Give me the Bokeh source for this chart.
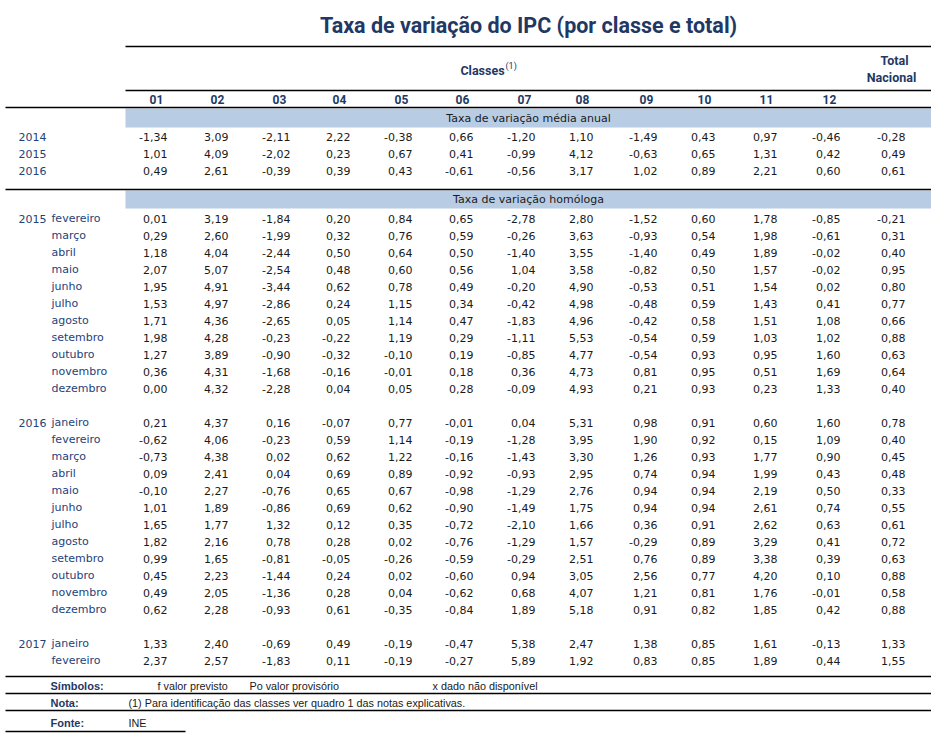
from bokeh.plotting import figure
from bokeh.models import Range1d, ColumnDataSource
from bokeh.core.properties import value
from bokeh.embed import file_html
from bokeh.resources import INLINE

# ---------------- data ----------------
title = "Taxa de variação do IPC (por classe e total)"
classes = ["01", "02", "03", "04", "05", "06", "07", "08", "09", "10", "11", "12"]

annual_years = ["2014", "2015", "2016"]
annual_2014 = [-1.34, 3.09, -2.11, 2.22, -0.38, 0.66, -1.20, 1.10, -1.49, 0.43, 0.97, -0.46, -0.28]
annual_2015 = [1.01, 4.09, -2.02, 0.23, 0.67, 0.41, -0.99, 4.12, -0.63, 0.65, 1.31, 0.42, 0.49]
annual_2016 = [0.49, 2.61, -0.39, 0.39, 0.43, -0.61, -0.56, 3.17, 1.02, 0.89, 2.21, 0.60, 0.61]

months_2015 = ["fevereiro", "março", "abril", "maio", "junho", "julho", "agosto",
               "setembro", "outubro", "novembro", "dezembro"]
yoy_2015 = [
    [0.01, 3.19, -1.84, 0.20, 0.84, 0.65, -2.78, 2.80, -1.52, 0.60, 1.78, -0.85, -0.21],
    [0.29, 2.60, -1.99, 0.32, 0.76, 0.59, -0.26, 3.63, -0.93, 0.54, 1.98, -0.61, 0.31],
    [1.18, 4.04, -2.44, 0.50, 0.64, 0.50, -1.40, 3.55, -1.40, 0.49, 1.89, -0.02, 0.40],
    [2.07, 5.07, -2.54, 0.48, 0.60, 0.56, 1.04, 3.58, -0.82, 0.50, 1.57, -0.02, 0.95],
    [1.95, 4.91, -3.44, 0.62, 0.78, 0.49, -0.20, 4.90, -0.53, 0.51, 1.54, 0.02, 0.80],
    [1.53, 4.97, -2.86, 0.24, 1.15, 0.34, -0.42, 4.98, -0.48, 0.59, 1.43, 0.41, 0.77],
    [1.71, 4.36, -2.65, 0.05, 1.14, 0.47, -1.83, 4.96, -0.42, 0.58, 1.51, 1.08, 0.66],
    [1.98, 4.28, -0.23, -0.22, 1.19, 0.29, -1.11, 5.53, -0.54, 0.59, 1.03, 1.02, 0.88],
    [1.27, 3.89, -0.90, -0.32, -0.10, 0.19, -0.85, 4.77, -0.54, 0.93, 0.95, 1.60, 0.63],
    [0.36, 4.31, -1.68, -0.16, -0.01, 0.18, 0.36, 4.73, 0.81, 0.95, 0.51, 1.69, 0.64],
    [0.00, 4.32, -2.28, 0.04, 0.05, 0.28, -0.09, 4.93, 0.21, 0.93, 0.23, 1.33, 0.40],
]

months_2016 = ["janeiro", "fevereiro", "março", "abril", "maio", "junho", "julho", "agosto",
               "setembro", "outubro", "novembro", "dezembro"]
yoy_2016 = [
    [0.21, 4.37, 0.16, -0.07, 0.77, -0.01, 0.04, 5.31, 0.98, 0.91, 0.60, 1.60, 0.78],
    [-0.62, 4.06, -0.23, 0.59, 1.14, -0.19, -1.28, 3.95, 1.90, 0.92, 0.15, 1.09, 0.40],
    [-0.73, 4.38, 0.02, 0.62, 1.22, -0.16, -1.43, 3.30, 1.26, 0.93, 1.77, 0.90, 0.45],
    [0.09, 2.41, 0.04, 0.69, 0.89, -0.92, -0.93, 2.95, 0.74, 0.94, 1.99, 0.43, 0.48],
    [-0.10, 2.27, -0.76, 0.65, 0.67, -0.98, -1.29, 2.76, 0.94, 0.94, 2.19, 0.50, 0.33],
    [1.01, 1.89, -0.86, 0.69, 0.62, -0.90, -1.49, 1.75, 0.94, 0.94, 2.61, 0.74, 0.55],
    [1.65, 1.77, 1.32, 0.12, 0.35, -0.72, -2.10, 1.66, 0.36, 0.91, 2.62, 0.63, 0.61],
    [1.82, 2.16, 0.78, 0.28, 0.02, -0.76, -1.29, 1.57, -0.29, 0.89, 3.29, 0.41, 0.72],
    [0.99, 1.65, -0.81, -0.05, -0.26, -0.59, -0.29, 2.51, 0.76, 0.89, 3.38, 0.39, 0.63],
    [0.45, 2.23, -1.44, 0.24, 0.02, -0.60, 0.94, 3.05, 2.56, 0.77, 4.20, 0.10, 0.88],
    [0.49, 2.05, -1.36, 0.28, 0.04, -0.62, 0.68, 4.07, 1.21, 0.81, 1.76, -0.01, 0.58],
    [0.62, 2.28, -0.93, 0.61, -0.35, -0.84, 1.89, 5.18, 0.91, 0.82, 1.85, 0.42, 0.88],
]

months_2017 = ["janeiro", "fevereiro"]
yoy_2017 = [
    [1.33, 2.40, -0.69, 0.49, -0.19, -0.47, 5.38, 2.47, 1.38, 0.85, 1.61, -0.13, 1.33],
    [2.37, 2.57, -1.83, 0.11, -0.19, -0.27, 5.89, 1.92, 0.83, 0.85, 1.89, 0.44, 1.55],
]

# ---------------- layout / style ----------------
DARK = "#1F3864"
LABEL = "#24427A"
NUM = "#1A1A1A"
BAND = "#B8CCE4"
NUM_FONT = value("DejaVu Sans")
HEAD_FONT = value("Roboto")
FOOT = value("Liberation Sans")

W, H = 931, 733
col_right = [167, 228, 290, 350, 412, 473, 535, 593, 657, 715, 777, 840, 905]
ROW = 17

p = figure(width=W, height=H, x_range=Range1d(0, W), y_range=Range1d(H, 0),
           output_backend="svg", toolbar_location=None, min_border=0,
           x_axis_type=None, y_axis_type=None)
p.grid.visible = False
p.outline_line_color = None
p.background_fill_color = "white"
p.border_fill_color = "white"


def fmt(v):
    return f"{v:.2f}".replace(".", ",")


# bands
p.quad(left=[125, 125], right=[935, 935], top=[108, 190], bottom=[127, 208],
       fill_color=BAND, line_color=None)

# rules
seg_x0 = [125, 125, 5, 5, 5, 5, 5, 5]
seg_x1 = [935, 935, 935, 935, 935, 935, 935, 185]
seg_y = [46, 90, 107, 189, 676, 693, 710, 731]
p.segment(x0=seg_x0, y0=seg_y, x1=seg_x1, y1=seg_y, line_color="black", line_width=1.6)

# title
p.text(x=[528], y=[25], text=[title], text_align="center", text_baseline="middle",
       text_font=HEAD_FONT, text_font_style="bold", text_font_size="21.5px", text_color=DARK)

# header
p.text(x=[482], y=[70], text=["Classes"], text_align="center", text_baseline="middle",
       text_font=HEAD_FONT, text_font_style="bold", text_font_size="12.5px", text_color=DARK)
p.text(x=[505], y=[65], text=["(1)"], text_align="left", text_baseline="middle",
       text_font=HEAD_FONT, text_font_size="9px", text_color=DARK)
p.text(x=[894, 891], y=[60, 77], text=["Total", "Nacional"], text_align="center",
       text_baseline="middle", text_font=HEAD_FONT, text_font_style="bold",
       text_font_size="12.5px", text_color=DARK)
p.text(x=[r - 11 for r in col_right[:12]], y=[99] * 12, text=classes, text_align="center",
       text_baseline="middle", text_font=HEAD_FONT, text_font_style="bold",
       text_font_size="12px", text_color=DARK)

# band captions
p.text(x=[528, 528], y=[118, 199], text=["Taxa de variação média anual", "Taxa de variação homóloga"],
       text_align="center", text_baseline="middle", text_font=NUM_FONT,
       text_font_size="11px", text_color=NUM)

# cells
cx, cy, ct = [], [], []
lx, ly, lt = [], [], []


def add_rows(rows, y0, year=None, labels=None, label_x=51):
    for i, row in enumerate(rows):
        y = y0 + i * ROW
        for j, v in enumerate(row):
            cx.append(col_right[j]); cy.append(y); ct.append(fmt(v))
        if labels is not None:
            lx.append(label_x); ly.append(y); lt.append(labels[i])
    if year is not None:
        lx.append(18); ly.append(y0); lt.append(year)


add_rows([annual_2014, annual_2015, annual_2016], 136)
for i, yr in enumerate(annual_years):
    lx.append(18); ly.append(136 + i * ROW); lt.append(yr)
add_rows(yoy_2015, 218, "2015", months_2015)
add_rows(yoy_2016, 422, "2016", months_2016)
add_rows(yoy_2017, 643, "2017", months_2017)

p.text(x="x", y="y", text="t", source=ColumnDataSource(dict(x=cx, y=cy, t=ct)),
       text_align="right", text_baseline="middle", text_font=NUM_FONT,
       text_font_size="11px", text_color=NUM)
p.text(x="x", y="y", text="t", source=ColumnDataSource(dict(x=lx, y=ly, t=lt)),
       text_align="left", text_baseline="middle", text_font=NUM_FONT,
       text_font_size="11px", text_color=LABEL)

# footer
p.text(x=[50, 50, 50], y=[685, 702, 722], text=["Símbolos:", "Nota:", "Fonte:"],
       text_align="left", text_baseline="middle", text_font=FOOT, text_font_style="bold",
       text_font_size="11px", text_color=DARK)
p.text(x=[157, 249, 432, 128, 128], y=[685, 685, 685, 702, 722],
       text=["f  valor previsto", "Po  valor provisório", "x  dado não disponível",
             "(1) Para identificação das classes ver quadro 1 das notas explicativas.", "INE"],
       text_align="left", text_baseline="middle", text_font=FOOT,
       text_font_size="10.8px", text_color=NUM)

open("out.html", "w").write(file_html(p, INLINE))
